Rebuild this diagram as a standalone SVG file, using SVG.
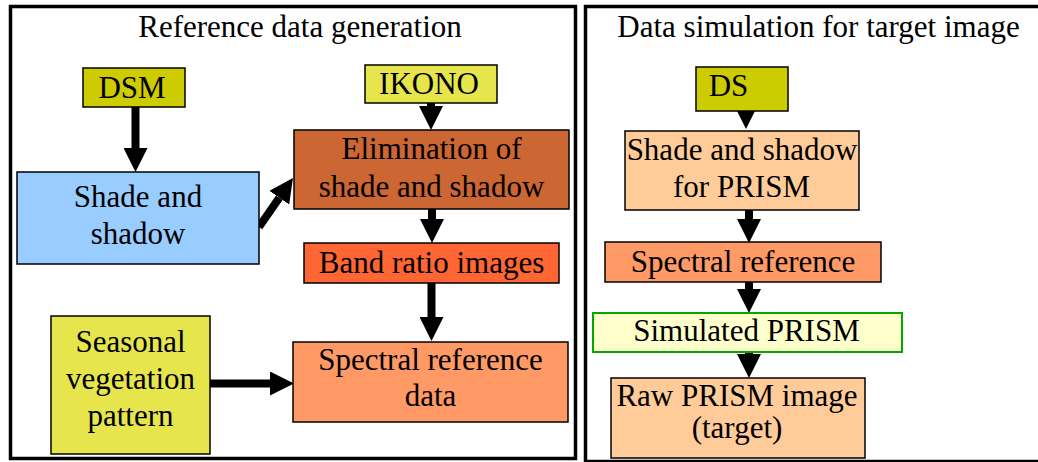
<svg xmlns="http://www.w3.org/2000/svg" width="1038" height="462" viewBox="0 0 1038 462">
  <style>
    .frame { fill: #ffffff; stroke: #000000; stroke-width: 3.5; }
    .box { stroke: #000000; stroke-width: 1.5; }
    .lbl { font-family: "Liberation Serif", "Times New Roman", serif; font-size: 31px; fill: #000000; text-anchor: middle; }
    .conn line { stroke: #000000; stroke-width: 8; marker-end: url(#head); }
  </style>
  <defs>
    <marker id="head" viewBox="0 0 3 3" refX="0" refY="1.5" markerWidth="3" markerHeight="3" orient="auto" markerUnits="strokeWidth">
      <path d="M0,0 L3,1.5 L0,3 z" fill="#000000"/>
    </marker>
  </defs>

  <rect width="1038" height="462" fill="#ffffff"/>

  <!-- panel frames -->
  <g id="panel-reference">
    <rect class="frame" x="10.5" y="6.5" width="565" height="452"/>
    <text class="lbl" x="300" y="37">Reference data generation</text>
  </g>
  <g id="panel-simulation">
    <rect class="frame" x="585.5" y="6.5" width="470" height="455"/>
    <text class="lbl" x="818.5" y="37">Data simulation for target image</text>
  </g>

  <!-- connectors -->
  <g id="connectors" class="conn">
    <line x1="135.5" y1="107" x2="135.5" y2="148"/>
    <line x1="431" y1="103" x2="431" y2="106"/>
    <line x1="259" y1="227" x2="279.3" y2="197.7"/>
    <line x1="432" y1="209" x2="432" y2="219"/>
    <line x1="431.5" y1="283" x2="431.5" y2="317"/>
    <line x1="210" y1="383.5" x2="270" y2="383.5"/>
    <line x1="746" y1="110" x2="746" y2="111" style="stroke-width:6"/>
    <line x1="749" y1="210" x2="749" y2="219"/>
    <line x1="749" y1="282" x2="749" y2="289"/>
    <line x1="749" y1="352" x2="749" y2="354"/>
  </g>

  <!-- reference data generation -->
  <g id="dsm">
    <rect class="box" x="83" y="68" width="102" height="39" fill="#CCCC00"/>
    <text class="lbl" x="132" y="97.5">DSM</text>
  </g>
  <g id="ikono">
    <rect class="box" x="365" y="65" width="132" height="38" fill="#E6E64C"/>
    <text class="lbl" x="429" y="94">IKONO</text>
  </g>
  <g id="shade-shadow">
    <rect class="box" x="17" y="172" width="242" height="92" fill="#99CCFF"/>
    <text class="lbl" x="138" y="207">Shade and</text>
    <text class="lbl" x="138" y="244">shadow</text>
  </g>
  <g id="elimination">
    <rect class="box" x="294" y="130" width="275" height="79" fill="#CC6633"/>
    <text class="lbl" x="431.5" y="159">Elimination of</text>
    <text class="lbl" x="431.5" y="197">shade and shadow</text>
  </g>
  <g id="band-ratio">
    <rect class="box" x="304" y="243" width="255" height="40" fill="#FF6633"/>
    <text class="lbl" x="431.5" y="273">Band ratio images</text>
  </g>
  <g id="spectral-reference-data">
    <rect class="box" x="293" y="342" width="275" height="80" fill="#FF9966"/>
    <text class="lbl" x="430.5" y="370">Spectral reference</text>
    <text class="lbl" x="430.5" y="406">data</text>
  </g>
  <g id="seasonal-vegetation">
    <rect class="box" x="51" y="316" width="159" height="138" fill="#E6E64C"/>
    <text class="lbl" x="130.5" y="352">Seasonal</text>
    <text class="lbl" x="130.5" y="389">vegetation</text>
    <text class="lbl" x="130.5" y="426">pattern</text>
  </g>

  <!-- data simulation for target image -->
  <g id="ds">
    <rect class="box" x="696" y="67" width="92" height="44" fill="#CCCC00"/>
    <text class="lbl" x="728.5" y="96">DS</text>
  </g>
  <g id="shade-shadow-prism">
    <rect class="box" x="625" y="131" width="234" height="79" fill="#FFCC99"/>
    <text class="lbl" x="742" y="160">Shade and shadow</text>
    <text class="lbl" x="741.5" y="197">for PRISM</text>
  </g>
  <g id="spectral-reference">
    <rect class="box" x="605" y="242" width="276" height="40" fill="#FF9966"/>
    <text class="lbl" x="743" y="272">Spectral reference</text>
  </g>
  <g id="simulated-prism">
    <rect x="593" y="313" width="309" height="39" fill="#FFFFCC" stroke="#00A800" stroke-width="2"/>
    <text class="lbl" x="746.5" y="341">Simulated PRISM</text>
  </g>
  <g id="raw-prism">
    <rect class="box" x="611" y="378" width="254" height="80" fill="#FFCC99"/>
    <text class="lbl" x="737" y="406">Raw PRISM image</text>
    <text class="lbl" x="737" y="438">(target)</text>
  </g>
</svg>
